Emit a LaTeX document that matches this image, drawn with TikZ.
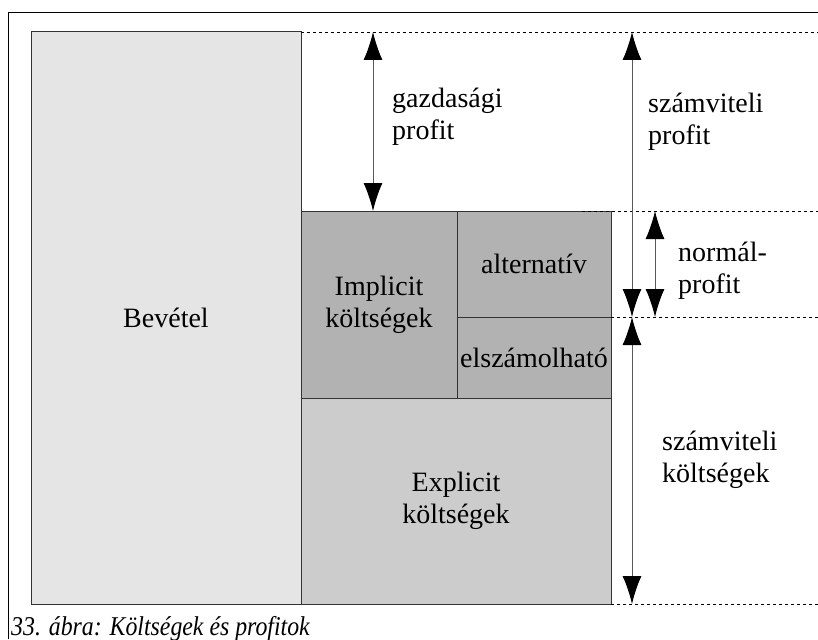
\documentclass[tikz,border=0pt]{standalone}
\usepackage{fontspec}
\setmainfont{Liberation Serif}
\usetikzlibrary{arrows.meta}
\begin{document}
\begin{tikzpicture}[x=1pt,y=-1pt,
  box/.style={draw=black!80,line width=1pt,anchor=north west,inner sep=0pt,outer sep=0pt,align=center,font=\fontsize{28}{32}\selectfont},
  dimarrow/.style={draw=black!65,line width=1pt,{Latex[length=28pt,width=19pt,color=black]}-{Latex[length=28pt,width=19pt,color=black]}},
  guide/.style={draw=black,line width=0.8pt,dash pattern=on 3pt off 3pt},
  lbl/.style={anchor=north west,inner sep=0pt,align=left,font=\fontsize{28}{32}\selectfont}
]
\useasboundingbox (0,0) rectangle (818,639);
% frame
\draw[line width=1pt] (8,639) -- (8,13) -- (818,13);
% boxes
\node[box,fill=black!10,minimum width=270pt,minimum height=572pt] (bev) at (31,32) {Bevétel};
\node[box,fill=black!30,minimum width=156pt,minimum height=187pt] (impl) at (301,211) {Implicit\\költségek};
\node[box,fill=black!30,minimum width=154pt,minimum height=106pt] (alt) at (457,211) {alternatív};
\node[box,fill=black!30,minimum width=154pt,minimum height=81pt] (elsz) at (457,317) {elszámolható};
\node[box,fill=black!20,minimum width=310pt,minimum height=206pt] (expl) at (301,398) {Explicit\\költségek};
% guide lines
\coordinate (r0) at (818,32);
\coordinate (r1s) at (582,211);
\coordinate (r1) at (818,211);
\coordinate (r2) at (818,317);
\coordinate (r3) at (818,604);
\draw[guide] (bev.north east) -- (r0);
\draw[guide] (r1s) -- (r1);
\draw[guide] (alt.south east) -- (r2);
\draw[guide] (expl.south east) -- (r3);
% arrows
\coordinate (gt) at (373,32);
\coordinate (gb) at (373,211);
\draw[dimarrow] (gt) -- (gb);
\coordinate (spt) at (632,32);
\coordinate (spb) at (632,317);
\draw[dimarrow] (spt) -- (spb);
\coordinate (npt) at (655,211);
\coordinate (npb) at (655,317);
\draw[dimarrow] (npt) -- (npb);
\coordinate (skt) at (632,317);
\coordinate (skb) at (632,604);
\draw[dimarrow] (skt) -- (skb);
% labels
\node[lbl] (lg) at (392,84.6) {\strut gazdasági\\profit};
\node[lbl] (lsp) at (648,89.6) {\strut számviteli\\profit};
\node[lbl] (lnp) at (678,238.6) {\strut normál-\\profit};
\node[lbl] (lsk) at (662,427.6) {\strut számviteli\\költségek};
% caption
\node[anchor=base west,inner sep=0pt,font=\fontsize{23.8}{28}\selectfont\itshape] (cap) at (11,635) {\scalebox{1}[1.14]{33. ábra: Költségek és profitok}};
\end{tikzpicture}
\end{document}
